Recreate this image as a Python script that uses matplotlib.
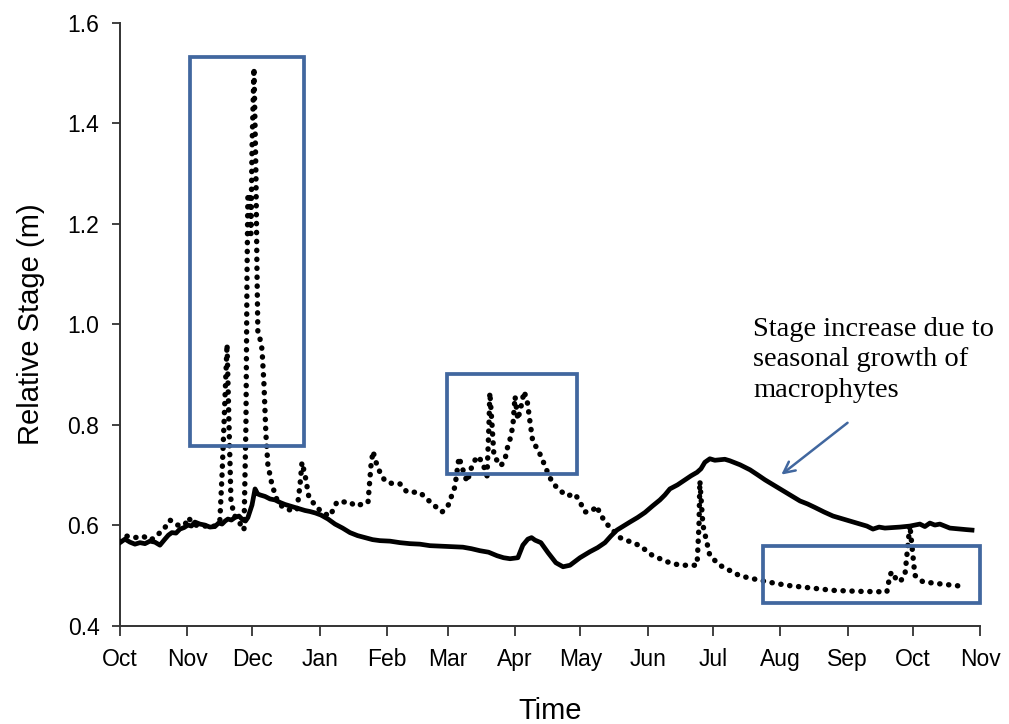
"""
Relative stage over one water year: solid vs dotted gauge record,
with highlighted events and a macrophyte annotation.
"""

import matplotlib
matplotlib.use("Agg")
import matplotlib.pyplot as plt
from matplotlib.patches import Rectangle

# month tick positions, days since 1 Oct
MONTH_DAYS = [0, 31, 61, 92, 123, 151, 182, 212, 243, 273, 304, 335, 365, 396]
MONTH_LABELS = ["Oct", "Nov", "Dec", "Jan", "Feb", "Mar", "Apr", "May",
                "Jun", "Jul", "Aug", "Sep", "Oct", "Nov"]
Y_TICKS = [0.4, 0.6, 0.8, 1.0, 1.2, 1.4, 1.6]

# solid record (days since 1 Oct, stage m)
SOLID_DAY = [0, 2.3, 4.6, 6.9, 9.2, 11.5, 13.8, 16.1, 18.4, 20.7, 22.3, 23.9, 25.8, 27.6,
             29.5, 31.3, 32.9, 34.5, 36.8, 39.1, 41.4, 43.7, 45.4, 47.0, 48.4, 49.7, 51.3,
             52.9, 54.8, 56.6, 57.8, 58.9, 60.8, 62.2, 63.4, 64.5, 66.8, 69.1, 71.4, 73.7,
             76.0, 78.3, 80.6, 82.9, 85.2, 87.5, 90.0, 92.5, 95.8, 99.0, 102.5, 105.9,
             109.4, 112.8, 116.3, 119.7, 124.3, 128.9, 133.5, 138.1, 142.7, 147.8, 152.8,
             157.9, 161.8, 165.7, 169.7, 173.6, 176.6, 179.6, 183.2, 185.5, 187.8, 189.5,
             191.1, 193.8, 197.1, 200.7, 204.0, 207.2, 211.8, 216.4, 219.9, 223.3, 226.0,
             228.8, 231.8, 234.8, 238.3, 241.7, 245.2, 248.6, 250.9, 253.2, 256.7, 260.1,
             262.9, 265.7, 267.5, 269.3, 271.6, 273.9, 276.2, 278.5, 280.8, 283.2, 285.5,
             290.1, 293.6, 297.0, 300.5, 303.9, 308.5, 313.1, 316.6, 320.0, 324.2, 328.3,
             332.2, 336.1, 340.0, 343.9, 346.7, 349.5, 352.2, 355.7, 359.1, 363.7, 366.0,
             368.3, 370.6, 372.9, 375.2, 377.5, 379.8, 382.1, 384.4, 386.7, 389.5, 392.3]
SOLID_VAL = [0.565, 0.572, 0.566, 0.562, 0.565, 0.563, 0.568, 0.566, 0.560, 0.572, 0.580, 0.585,
             0.584, 0.592, 0.595, 0.600, 0.598, 0.606, 0.602, 0.600, 0.596, 0.597, 0.604,
             0.602, 0.608, 0.612, 0.610, 0.615, 0.618, 0.610, 0.608, 0.615, 0.640, 0.672,
             0.662, 0.660, 0.657, 0.652, 0.650, 0.645, 0.641, 0.638, 0.635, 0.632, 0.629,
             0.627, 0.624, 0.620, 0.612, 0.602, 0.594, 0.585, 0.579, 0.575, 0.571, 0.569,
             0.568, 0.565, 0.563, 0.562, 0.559, 0.558, 0.557, 0.556, 0.553, 0.549, 0.546,
             0.539, 0.535, 0.533, 0.535, 0.560, 0.572, 0.575, 0.570, 0.565, 0.545, 0.525,
             0.517, 0.520, 0.535, 0.547, 0.555, 0.565, 0.578, 0.590, 0.598, 0.606, 0.615,
             0.625, 0.638, 0.650, 0.660, 0.672, 0.680, 0.690, 0.698, 0.705, 0.712, 0.725,
             0.732, 0.729, 0.730, 0.731, 0.728, 0.724, 0.720, 0.710, 0.700, 0.690, 0.681,
             0.672, 0.660, 0.648, 0.642, 0.635, 0.626, 0.618, 0.613, 0.608, 0.603, 0.598,
             0.592, 0.596, 0.594, 0.595, 0.596, 0.598, 0.600, 0.602, 0.597, 0.604, 0.600,
             0.602, 0.598, 0.594, 0.593, 0.592, 0.591, 0.590]

# dotted record (days since 1 Oct, stage m)
DOTTED_DAY = [0, 3.2, 6.9, 10.6, 13.8, 16.1, 20.7, 23.0, 26.2, 29.9, 31.3, 34.5, 39.1, 43.7,
              46.0, 47.0, 48.3, 49.3, 50.2, 51.1, 52.5, 54.3, 55.7, 57.1, 58.0, 58.5, 58.9,
              59.9, 60.3, 60.8, 61.7, 62.6, 63.1, 63.5, 64.5, 65.4, 66.3, 67.2, 68.1, 70.0,
              72.3, 75.0, 78.3, 81.5, 82.9, 83.8, 85.2, 87.0, 89.8, 93.0, 96.7, 99.9, 105.9,
              108.2, 111.9, 114.2, 115.6, 116.5, 117.9, 119.7, 122.0, 125.7, 128.9, 132.1,
              138.1, 141.3, 145.0, 148.3, 151.0, 154.2, 156.1, 157.9, 159.8, 162.1, 164.4,
              166.7, 169.0, 169.9, 170.3, 171.3, 172.2, 175.4, 177.3, 178.2, 179.6, 180.9,
              181.9, 183.2, 185.1, 186.0, 187.4, 188.8, 190.1, 192.4, 194.8, 196.6, 198.9,
              201.7, 205.8, 209.5, 211.8, 214.1, 217.3, 219.6, 221.0, 224.2, 230.2, 239.4,
              245.0, 251.8, 257.8, 265.7, 266.6, 267.0, 268.4, 271.6, 276.2, 285.4, 297.9,
              307.1, 328.3, 340.7, 353.1, 354.5, 355.4, 357.7, 359.1, 361.4, 362.8, 363.7,
              364.6, 366.0, 369.7, 377.5, 388.1]
DOTTED_VAL = [0.567, 0.578, 0.575, 0.578, 0.570, 0.575, 0.595, 0.610, 0.600, 0.600, 0.615,
              0.600, 0.598, 0.598, 0.610, 0.700, 0.850, 0.960, 0.800, 0.650, 0.620, 0.610,
              0.600, 0.590, 0.800, 1.100, 1.260, 1.250, 1.180, 1.350, 1.510, 1.300, 1.100,
              0.980, 0.970, 0.950, 0.880, 0.780, 0.720, 0.680, 0.650, 0.635, 0.630, 0.630,
              0.680, 0.725, 0.700, 0.655, 0.640, 0.625, 0.618, 0.646, 0.646, 0.638, 0.642,
              0.645, 0.720, 0.747, 0.725, 0.705, 0.688, 0.682, 0.682, 0.666, 0.665, 0.652,
              0.638, 0.626, 0.638, 0.676, 0.735, 0.710, 0.686, 0.718, 0.737, 0.727, 0.698,
              0.800, 0.864, 0.800, 0.737, 0.718, 0.731, 0.751, 0.771, 0.797, 0.856, 0.810,
              0.844, 0.866, 0.850, 0.805, 0.765, 0.751, 0.727, 0.708, 0.686, 0.672, 0.658,
              0.662, 0.646, 0.626, 0.628, 0.638, 0.622, 0.602, 0.575, 0.559, 0.540, 0.527,
              0.520, 0.520, 0.600, 0.688, 0.600, 0.539, 0.520, 0.499, 0.487, 0.480, 0.470,
              0.468, 0.467, 0.500, 0.507, 0.490, 0.487, 0.500, 0.560, 0.600, 0.560, 0.500,
              0.487, 0.483, 0.478]

# highlight boxes: (day start, day end, stage low, stage high)
BOXES = [(32.2, 84.7, 0.757, 1.531),
         (150.6, 210.4, 0.702, 0.900),
         (296.0, 396.0, 0.444, 0.559)]
BOX_COLOR = "#41679f"

NOTE_TEXT = "Stage increase due to\nseasonal growth of\nmacrophytes"


def main() -> None:
    plt.rcParams.update({
        "font.family": "sans-serif",
        "font.sans-serif": ["Liberation Sans", "DejaVu Sans"],
    })

    fig = plt.figure(figsize=(10.09, 7.24), dpi=100)
    ax = fig.add_axes([0.1189, 0.136, 0.8524, 0.8326])

    ax.plot(SOLID_DAY, SOLID_VAL, color="black", lw=3.4, solid_joinstyle="round", zorder=3)
    ax.plot(DOTTED_DAY, DOTTED_VAL, color="black", lw=3.9, linestyle=(0, (0.05, 1.6)),
            dash_capstyle="round", zorder=4)

    for x0, x1, y0, y1 in BOXES:
        ax.add_patch(Rectangle((x0, y0), x1 - x0, y1 - y0, fill=False,
                               edgecolor=BOX_COLOR, lw=2.7, zorder=5, clip_on=False))

    ax.annotate(
        "", xy=(303.5, 0.697), xytext=(336, 0.807),
        arrowprops=dict(arrowstyle="->,head_length=0.8,head_width=0.4",
                        color=BOX_COLOR, lw=1.8),
    )
    ax.text(291.5, 1.015, NOTE_TEXT, family=["Liberation Serif", "DejaVu Serif"],
            fontsize=20.5, va="top", ha="left", linespacing=1.3)

    ax.set_xlim(0, 396)
    ax.set_ylim(0.4, 1.6)
    ax.set_xticks(MONTH_DAYS)
    ax.set_xticklabels(MONTH_LABELS)
    ax.set_yticks(Y_TICKS)
    ax.set_yticklabels([f"{v:.1f}" for v in Y_TICKS])
    ax.tick_params(axis="both", labelsize=16.5, width=1.3, color="#333333", direction="out")
    ax.tick_params(axis="x", length=7.2, pad=9)
    ax.tick_params(axis="y", length=5.8, pad=9)

    for side in ("top", "right"):
        ax.spines[side].set_visible(False)
    for side in ("left", "bottom"):
        ax.spines[side].set_linewidth(1.4)
        ax.spines[side].set_color("#333333")

    ax.set_xlabel("Time", fontsize=21, labelpad=19)
    ax.set_ylabel("Relative Stage (m)", fontsize=21, labelpad=16)

    fig.savefig("out.png", dpi=100, facecolor="white")
    plt.close(fig)


if __name__ == "__main__":
    main()
